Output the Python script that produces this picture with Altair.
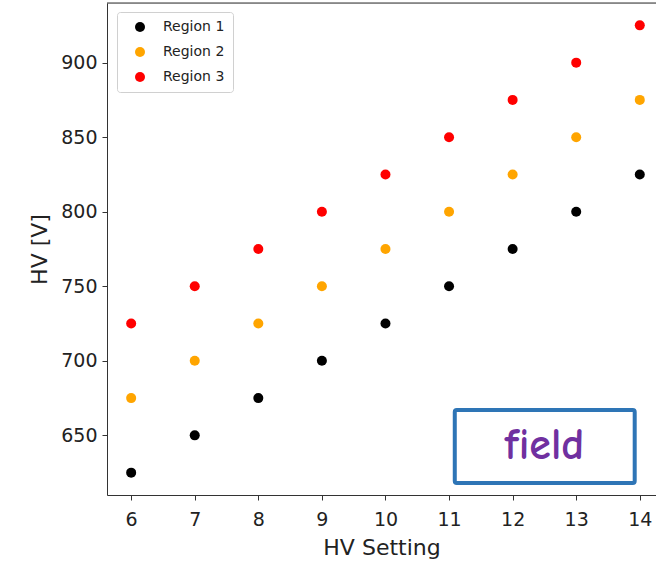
import altair as alt
import pandas as pd

hv_setting = [6, 7, 8, 9, 10, 11, 12, 13, 14]
region1 = [625, 650, 675, 700, 725, 750, 775, 800, 825]
region2 = [675, 700, 725, 750, 775, 800, 825, 850, 875]
region3 = [725, 750, 775, 800, 825, 850, 875, 900, 925]
regions = ["Region 1", "Region 2", "Region 3"]
colors = ["black", "orange", "red"]

rows = []
for name, vals in zip(regions, [region1, region2, region3]):
    for x, y in zip(hv_setting, vals):
        rows.append({"HV Setting": x, "HV": y, "Region": name})
df = pd.DataFrame(rows)

W, H = 549, 492
FONT = "DejaVu Sans"

points = alt.Chart(df).mark_circle(size=100, opacity=1).encode(
    x=alt.X("HV Setting:Q",
            scale=alt.Scale(domain=[5.62, 14.255], nice=False, zero=False),
            axis=alt.Axis(values=hv_setting, format="d", title="HV Setting", grid=False,
                          tickSize=5, labelFontSize=19, titleFontSize=22,
                          labelFont=FONT, titleFont=FONT, labelColor="#222",
                          titleColor="#222", domainColor="#333", tickColor="#333",
                          labelPadding=10, titlePadding=8, titleFontWeight="normal",
                          labelFlush=False)),
    y=alt.Y("HV:Q",
            scale=alt.Scale(domain=[610, 940], nice=False, zero=False),
            axis=alt.Axis(values=[650, 700, 750, 800, 850, 900], title="HV [V]",
                          grid=False, tickSize=5, labelFontSize=19, titleFontSize=22,
                          labelFont=FONT, titleFont=FONT, labelColor="#222",
                          titleColor="#222", domainColor="#333", tickColor="#333",
                          labelPadding=5, titlePadding=9, titleFontWeight="normal")),
    color=alt.Color("Region:N",
                    scale=alt.Scale(domain=regions, range=colors),
                    legend=alt.Legend(title=None, orient="none", legendX=10, legendY=9,
                                      labelFont=FONT, labelFontSize=14, labelColor="#222",
                                      symbolType="circle", symbolSize=100,
                                      strokeColor="#d0d0d0", fillColor="white",
                                      cornerRadius=3, padding=8, rowPadding=11,
                                      symbolOffset=8, labelOffset=16,
                                      symbolOpacity=1)),
)

top_line = alt.Chart(pd.DataFrame({"a": [0]})).mark_rule(color="#333", strokeWidth=1).encode(
    x=alt.value(0), x2=alt.value(W), y=alt.value(0)
)

# annotation box
ann = pd.DataFrame({"x": [11.09], "x2": [13.92], "y": [667], "y2": [618],
                    "tx": [12.5], "ty": [643], "label": ["field"]})
box = alt.Chart(ann).mark_rect(fill="white", stroke="#2e75b6", strokeWidth=4,
                               cornerRadius=2).encode(
    x="x:Q", x2="x2:Q", y="y:Q", y2="y2:Q")
txt = alt.Chart(ann).mark_text(color="#7030a0", fontSize=44, fontWeight="bold",
                               font="Comic Sans MS, Comic Neue, DejaVu Sans",
                               align="center", baseline="middle").encode(
    x="tx:Q", y="ty:Q", text="label:N")

chart = alt.layer(points, top_line, box, txt).properties(
    width=W, height=H,
    autosize=alt.AutoSizeParams(type="none"),
    padding={"left": 107, "top": 3, "right": 0, "bottom": 69},
).configure_view(stroke=None).configure(background="white")

chart.save("out.html", embed_options={"renderer": "svg", "actions": False})
